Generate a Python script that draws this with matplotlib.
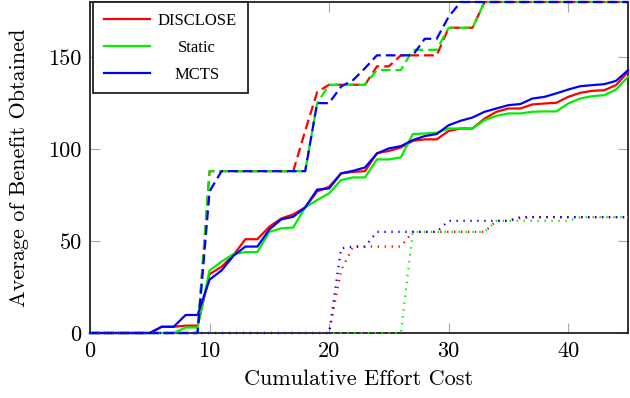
import matplotlib
matplotlib.use("Agg")
import matplotlib.pyplot as plt
import numpy as np

x = list(range(0, 46))

disclose_mean = [0, 0, 0, 0, 0, 0, 3.4, 3.4, 4, 4, 32, 36, 42.4, 51, 51, 57.8, 62.3, 64.5,
                 68.3, 77, 79.5, 86.8, 87.6, 88, 97.8, 99, 100.9, 104.5, 105.3, 105.3,
                 109.9, 111.2, 111.2, 116.6, 120.3, 122.1, 122.1, 124.3, 124.8, 125.2,
                 128.4, 130.6, 131.7, 132, 134.8, 142]
static_mean = [0, 0, 0, 0, 0, 0, 0, 0, 3, 3, 34, 38.8, 43, 44, 44, 55, 56.9, 57.4,
               68.3, 72.3, 75.9, 83.2, 84.6, 84.6, 94.4, 94.4, 95.5, 108.2, 108.5, 108.9,
               111.2, 111.2, 111.2, 115.8, 118.1, 119.4, 119.4, 120.3, 120.5, 120.5,
               124.8, 127.5, 128.8, 129.3, 132.4, 139.3]
mcts_mean = [0, 0, 0, 0, 0, 0, 3.4, 3.4, 9.8, 9.8, 29, 34, 42, 47, 47, 56.3, 61.8, 63.2,
             68.3, 78, 78.6, 86.8, 88.2, 90, 97.6, 100.4, 101.6, 104.9, 107.1, 108.2,
             113, 115.4, 117.2, 120.3, 122.1, 123.9, 124.5, 127.5, 128.4, 130.3,
             132.4, 134.2, 134.8, 135.3, 137.1, 142.9]

disclose_max = [0] * 10 + [88] * 8 + [110, 131, 135, 135, 135, 135, 145, 145, 151, 151,
                151, 151, 166, 166, 166] + [180] * 13
static_max = [0] * 10 + [88] * 9 + [125, 135, 135, 135, 135, 143, 143, 143, 154, 154,
              154, 166, 166, 166] + [180] * 13
mcts_max = [0] * 10 + [77] + [88] * 8 + [125, 125, 134, 137.5, 144, 151, 151, 151, 151,
            160, 160, 172] + [180] * 15

disclose_min = [0] * 21 + [34, 47, 47, 47, 47, 47, 55, 55, 55, 55, 55, 55, 55, 61, 61,
                62.5] + [63] * 9
static_min = [0] * 27 + [55] * 7 + [61] * 7 + [63] * 5
mcts_min = [0] * 21 + [46, 47, 47, 55, 55, 55, 55, 55, 55, 61, 61, 61, 61, 61, 61] + [63] * 10

series_names = ["DISCLOSE", "Static", "MCTS"]
colors = ["#ff0000", "#00ee00", "#0000ff"]

x_ticks = [0, 10, 20, 30, 40]
y_ticks = [0, 50, 100, 150]

plt.rcParams["lines.scale_dashes"] = False
plt.rcParams["axes.formatter.use_mathtext"] = True

fig = plt.figure(figsize=(6.3, 3.98), dpi=100)
ax = fig.add_axes([90 / 630, 1 - 333 / 398, 538 / 630, 331 / 398])

means = [disclose_mean, static_mean, mcts_mean]
maxs = [disclose_max, static_max, mcts_max]
mins = [disclose_min, static_min, mcts_min]

lw = 1.6
handles = []
for name, c, m in zip(series_names, colors, means):
    h, = ax.plot(x, m, color=c, lw=lw, label=name, zorder=3, clip_on=False)
    handles.append(h)
for c, m in zip(colors, maxs):
    ax.plot(x, m, color=c, lw=lw, dashes=(7, 3.6), zorder=3, clip_on=False)
for c, m in zip(colors, mins):
    ax.plot(x, m, color=c, lw=lw, dashes=(1.0, 4.0), zorder=3, clip_on=False)

ax.set_xlim(0, 45)
ax.set_ylim(0, 180)
ax.set_xticks(x_ticks)
ax.set_yticks(y_ticks)

tickfont = {"family": "cmr10", "size": 16}
ax.set_xticklabels([str(t) for t in x_ticks], fontdict=tickfont)
ax.set_yticklabels([str(t) for t in y_ticks], fontdict=tickfont)
ax.tick_params(direction="in", length=7.5, width=0.8, color="#a8a8a8",
               top=True, right=True, pad=6)

ax.set_xlabel("Cumulative Effort Cost", fontdict=tickfont, labelpad=6)
ax.set_ylabel("Average of Benefit Obtained", fontdict=tickfont, labelpad=14)

for s in ax.spines.values():
    s.set_linewidth(1.3)
    s.set_color("#222222")

leg = ax.legend(handles=handles, loc="upper left", bbox_to_anchor=(0.005, 1.0),
                borderaxespad=0, fancybox=False, framealpha=1, edgecolor="#222222",
                prop={"family": "Liberation Serif", "size": 12}, handlelength=2.8,
                handletextpad=0.45, borderpad=0.65, labelspacing=0.65)
leg.get_frame().set_linewidth(1.3)
leg.set_zorder(5)

fig.canvas.draw()
widths = [t.get_window_extent().width for t in leg.get_texts()]
maxw = max(widths)
for t, w in zip(leg.get_texts(), widths):
    t.set_x((maxw - w) / 2)

fig.savefig("out.png", dpi=100)
